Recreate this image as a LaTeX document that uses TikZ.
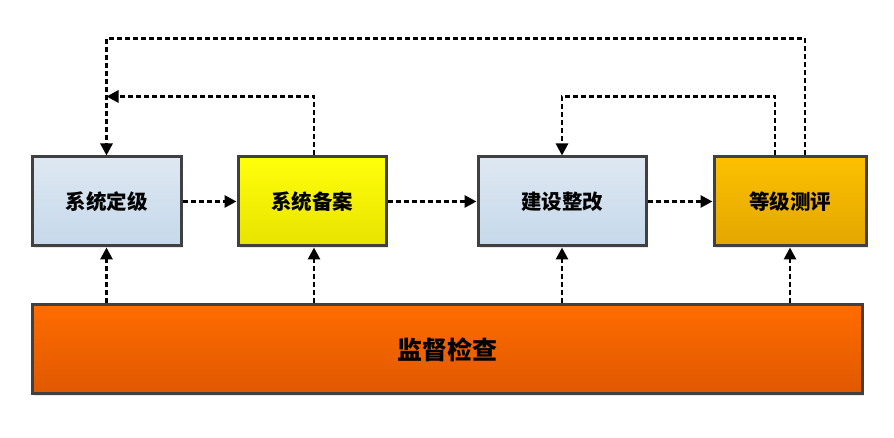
\documentclass[tikz,border=0pt]{standalone}
\usepackage{fontspec}
\newfontfamily\cjk{Noto Sans CJK SC}
\usetikzlibrary{arrows.meta,shadows}
\begin{document}
\begin{tikzpicture}[x=1pt,y=1pt,
  box/.style={draw=black!75, line width=3pt, minimum height=89pt, inner sep=0pt,
    font=\cjk\bfseries\fontsize{20.5}{24}\selectfont,
    drop shadow={opacity=0.18, shadow xshift=2pt, shadow yshift=-2pt}},
  link/.style={line width=2.8pt, dash pattern=on 5pt off 3pt, -{Triangle[length=12pt,width=12pt]}}]
\definecolor{lb1}{RGB}{222,232,242}
\definecolor{lb2}{RGB}{197,216,234}
\definecolor{y1}{RGB}{255,255,10}
\definecolor{y2}{RGB}{232,226,0}
\definecolor{g1}{RGB}{252,192,0}
\definecolor{g2}{RGB}{226,166,0}
\definecolor{o1}{RGB}{255,108,0}
\definecolor{o2}{RGB}{224,88,0}
\useasboundingbox (0,0) rectangle (894,438);
\fill[white] (0,0) rectangle (894,438);
\node[box, top color=lb1, bottom color=lb2, minimum width=149pt] (a) at (106.5,236.5) {系统定级};
\node[box, top color=y1, bottom color=y2, minimum width=148pt] (b) at (312,236.5) {系统备案};
\node[box, top color=lb1, bottom color=lb2, minimum width=168pt] (c) at (562,236.5) {建设整改};
\node[box, top color=g1, bottom color=g2, minimum width=152pt] (d) at (790,236.5) {等级测评};
\node[box, top color=o1, bottom color=o2, minimum width=830pt, font=\cjk\bfseries\fontsize{25}{30}\selectfont] (e) at (447,88.5) {监督检查};
% horizontal
\draw[link] (a.east) -- (b.west);
\draw[link] (b.east) -- (c.west);
\draw[link] (c.east) -- (d.west);
% loops anchors
\coordinate (d1) at ([xshift=15pt]d.north);
\coordinate (d2) at ([xshift=-15pt]d.north);
\coordinate (b1) at ([xshift=2pt]b.north);
\coordinate (b2) at ([xshift=2pt]b.south);
% vertical from e
\draw[link] (e.north -| a) -- (a.south);
\draw[link] (e.north -| b2) -- (b2);
\draw[link] (e.north -| c) -- (c.south);
\draw[link] (e.north -| d) -- (d.south);
% loops
\coordinate (top) at ([yshift=117pt]d1);
\coordinate (mid) at ([yshift=59pt]b1);
\draw[link] (d1) -- (top) -| (a.north);
\draw[link] (b1) -- (mid) -- (mid -| a.north);
\draw[link] (d2) -- ++(0,59) -| (c.north);
\end{tikzpicture}
\end{document}
